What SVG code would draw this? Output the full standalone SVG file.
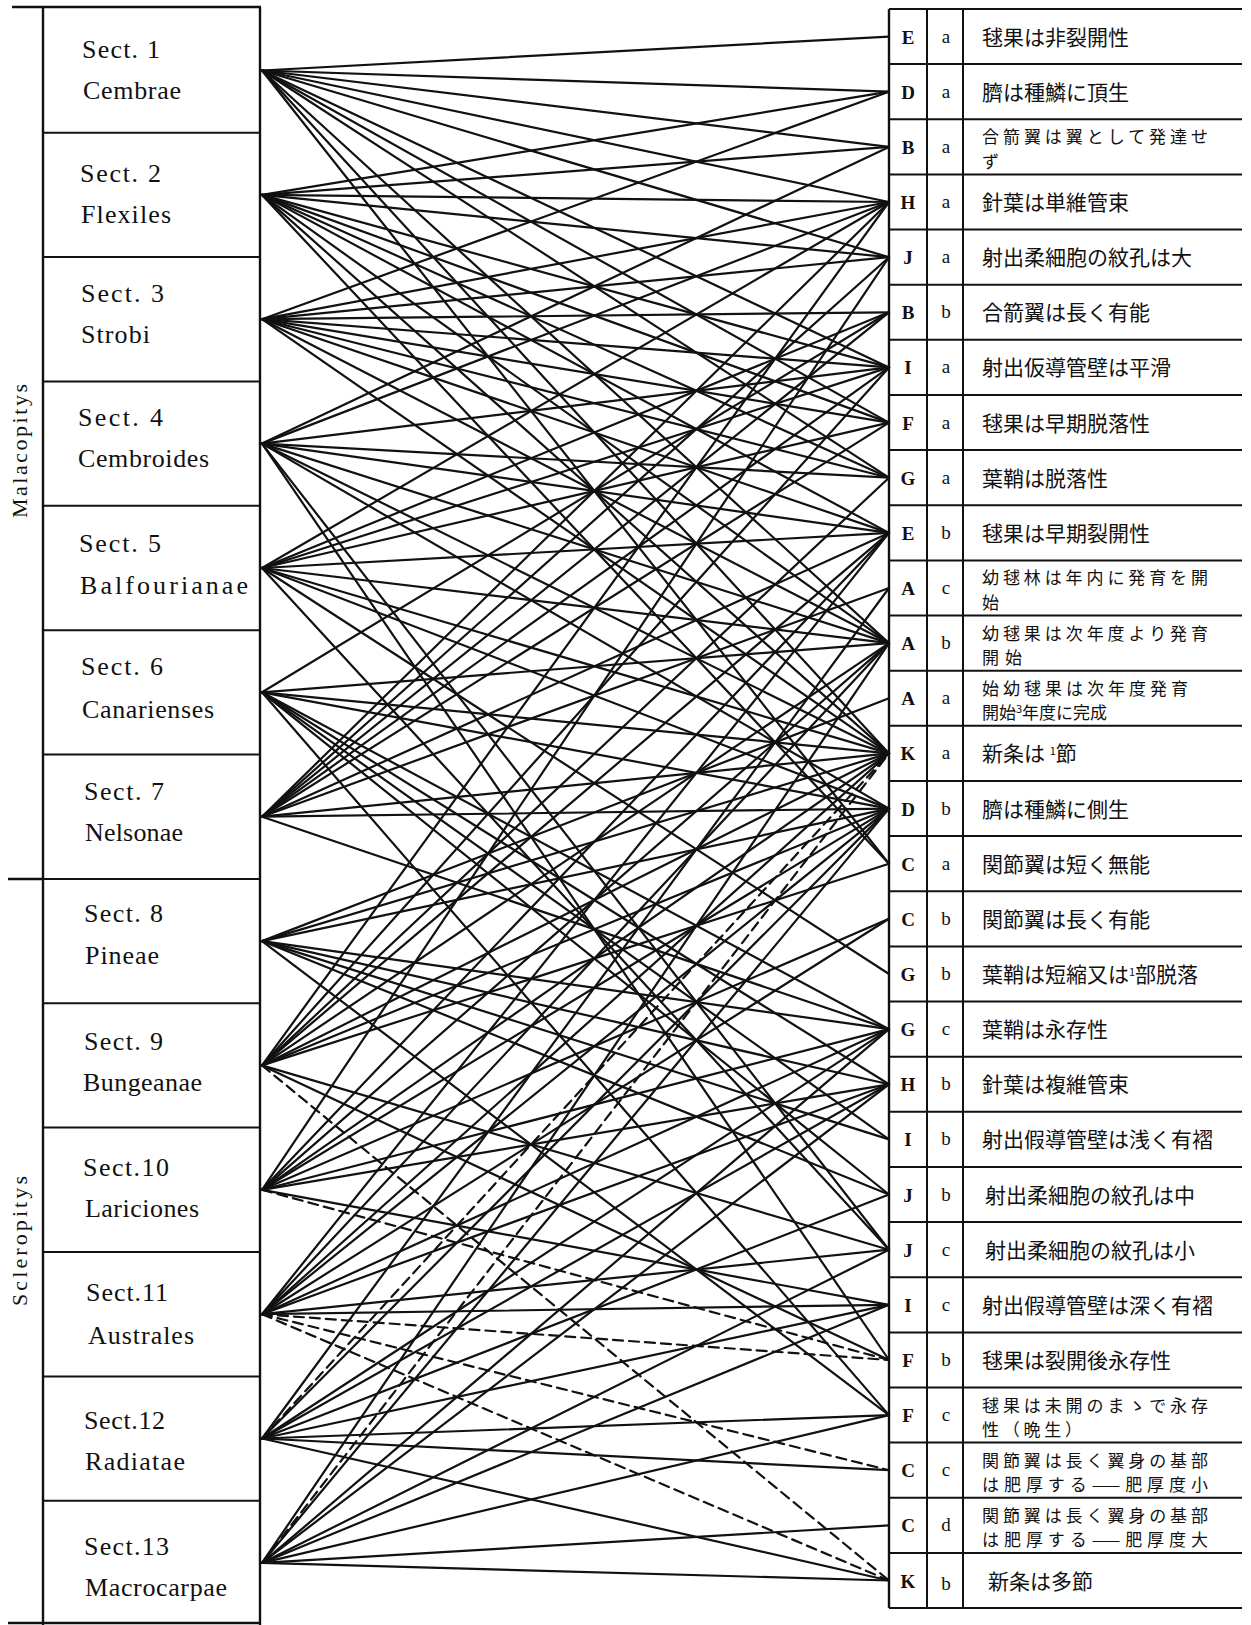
<svg xmlns="http://www.w3.org/2000/svg" width="1251" height="1625" viewBox="0 0 1251 1625">
<style>
.bg{fill:#fff}
.frame{stroke:#111;stroke-width:2.4;fill:none}
.thin{stroke:#111;stroke-width:2;fill:none}
.sect{font-family:"Liberation Serif","DejaVu Serif",serif;font-size:26px;fill:#111}
.grp{font-family:"Liberation Serif","DejaVu Serif",serif;font-size:22px;fill:#111}
.cap{font-family:"Liberation Serif","DejaVu Serif",serif;font-size:19px;font-weight:bold;fill:#111;text-anchor:middle}
.low{font-family:"Liberation Serif","DejaVu Serif",serif;font-size:19px;fill:#111;text-anchor:middle}
.jp{font-family:"Noto Sans CJK JP","Noto Sans CJK SC",sans-serif;font-size:21px;fill:#111}
.jp2{font-family:"Noto Sans CJK JP","Noto Sans CJK SC",sans-serif;font-size:17px;fill:#111}
.sm{font-size:11px}
#connectors line{stroke:#111;stroke-width:2.2;stroke-linecap:round}
#connectors .d{stroke-dasharray:10 6}
</style>
<rect class="bg" x="0" y="0" width="1251" height="1625"/>

<g id="left-frame">
<line class="frame" x1="12" y1="7" x2="261" y2="7"/>
<line class="frame" x1="43" y1="7" x2="43" y2="1625"/>
<line class="frame" x1="260" y1="7" x2="260" y2="1625"/>
<line class="frame" x1="8" y1="879" x2="43" y2="879"/>
<line class="frame" x1="8" y1="1623" x2="260" y2="1623"/>
<line class="thin" x1="43" y1="132.7" x2="260" y2="132.7"/>
<line class="thin" x1="43" y1="257.1" x2="260" y2="257.1"/>
<line class="thin" x1="43" y1="381.4" x2="260" y2="381.4"/>
<line class="thin" x1="43" y1="505.8" x2="260" y2="505.8"/>
<line class="thin" x1="43" y1="630.2" x2="260" y2="630.2"/>
<line class="thin" x1="43" y1="754.5" x2="260" y2="754.5"/>
<line class="thin" x1="43" y1="878.9" x2="260" y2="878.9"/>
<line class="thin" x1="43" y1="1003.3" x2="260" y2="1003.3"/>
<line class="thin" x1="43" y1="1127.6" x2="260" y2="1127.6"/>
<line class="thin" x1="43" y1="1252" x2="260" y2="1252"/>
<line class="thin" x1="43" y1="1376.4" x2="260" y2="1376.4"/>
<line class="thin" x1="43" y1="1500.7" x2="260" y2="1500.7"/>
</g>
<g id="group-malacopitys"><text class="grp" transform="translate(27 451) rotate(-90)" text-anchor="middle" textLength="134" lengthAdjust="spacing">Malacopitys</text></g>
<g id="group-scleropitys"><text class="grp" transform="translate(27 1241) rotate(-90)" text-anchor="middle" textLength="130" lengthAdjust="spacing">Scleropitys</text></g>

<g id="sect1"><text class="sect" x="82" y="58" textLength="78" lengthAdjust="spacing">Sect. 1</text><text class="sect" x="83" y="99" textLength="98" lengthAdjust="spacing">Cembrae</text></g>
<g id="sect2"><text class="sect" x="80" y="182" textLength="81" lengthAdjust="spacing">Sect. 2</text><text class="sect" x="81" y="223" textLength="90" lengthAdjust="spacing">Flexiles</text></g>
<g id="sect3"><text class="sect" x="81" y="302" textLength="83" lengthAdjust="spacing">Sect. 3</text><text class="sect" x="81" y="343" textLength="69" lengthAdjust="spacing">Strobi</text></g>
<g id="sect4"><text class="sect" x="78" y="426" textLength="85" lengthAdjust="spacing">Sect. 4</text><text class="sect" x="78" y="467" textLength="131" lengthAdjust="spacing">Cembroides</text></g>
<g id="sect5"><text class="sect" x="79" y="552" textLength="82" lengthAdjust="spacing">Sect. 5</text><text class="sect" x="80" y="594" textLength="168" lengthAdjust="spacing">Balfourianae</text></g>
<g id="sect6"><text class="sect" x="81" y="675" textLength="82" lengthAdjust="spacing">Sect. 6</text><text class="sect" x="82" y="718" textLength="132" lengthAdjust="spacing">Canarienses</text></g>
<g id="sect7"><text class="sect" x="84" y="800" textLength="80" lengthAdjust="spacing">Sect. 7</text><text class="sect" x="85" y="841" textLength="98" lengthAdjust="spacing">Nelsonae</text></g>
<g id="sect8"><text class="sect" x="84" y="922" textLength="79" lengthAdjust="spacing">Sect. 8</text><text class="sect" x="85" y="964" textLength="74" lengthAdjust="spacing">Pineae</text></g>
<g id="sect9"><text class="sect" x="84" y="1050" textLength="79" lengthAdjust="spacing">Sect. 9</text><text class="sect" x="83" y="1091" textLength="119" lengthAdjust="spacing">Bungeanae</text></g>
<g id="sect10"><text class="sect" x="83" y="1176" textLength="86" lengthAdjust="spacing">Sect.10</text><text class="sect" x="85" y="1217" textLength="114" lengthAdjust="spacing">Lariciones</text></g>
<g id="sect11"><text class="sect" x="86" y="1301" textLength="82" lengthAdjust="spacing">Sect.11</text><text class="sect" x="88" y="1344" textLength="106" lengthAdjust="spacing">Australes</text></g>
<g id="sect12"><text class="sect" x="84" y="1429" textLength="81" lengthAdjust="spacing">Sect.12</text><text class="sect" x="85" y="1470" textLength="100" lengthAdjust="spacing">Radiatae</text></g>
<g id="sect13"><text class="sect" x="84" y="1555" textLength="85" lengthAdjust="spacing">Sect.13</text><text class="sect" x="85" y="1596" textLength="142" lengthAdjust="spacing">Macrocarpae</text></g>

<g id="right-frame">
<line class="frame" x1="889" y1="9" x2="889" y2="1608"/>
<line class="thin" x1="927" y1="9" x2="927" y2="1608"/>
<line class="thin" x1="963" y1="9" x2="963" y2="1608"/>
<g class="thin">
<line x1="889" y1="9" x2="1242" y2="9"/>
<line x1="889" y1="64.1" x2="1242" y2="64.1"/>
<line x1="889" y1="119.3" x2="1242" y2="119.3"/>
<line x1="889" y1="174.4" x2="1242" y2="174.4"/>
<line x1="889" y1="229.6" x2="1242" y2="229.6"/>
<line x1="889" y1="284.7" x2="1242" y2="284.7"/>
<line x1="889" y1="339.8" x2="1242" y2="339.8"/>
<line x1="889" y1="395" x2="1242" y2="395"/>
<line x1="889" y1="450.1" x2="1242" y2="450.1"/>
<line x1="889" y1="505.3" x2="1242" y2="505.3"/>
<line x1="889" y1="560.4" x2="1242" y2="560.4"/>
<line x1="889" y1="615.5" x2="1242" y2="615.5"/>
<line x1="889" y1="670.7" x2="1242" y2="670.7"/>
<line x1="889" y1="725.8" x2="1242" y2="725.8"/>
<line x1="889" y1="781" x2="1242" y2="781"/>
<line x1="889" y1="836.1" x2="1242" y2="836.1"/>
<line x1="889" y1="891.2" x2="1242" y2="891.2"/>
<line x1="889" y1="946.4" x2="1242" y2="946.4"/>
<line x1="889" y1="1001.5" x2="1242" y2="1001.5"/>
<line x1="889" y1="1056.7" x2="1242" y2="1056.7"/>
<line x1="889" y1="1111.8" x2="1242" y2="1111.8"/>
<line x1="889" y1="1166.9" x2="1242" y2="1166.9"/>
<line x1="889" y1="1222.1" x2="1242" y2="1222.1"/>
<line x1="889" y1="1277.2" x2="1242" y2="1277.2"/>
<line x1="889" y1="1332.4" x2="1242" y2="1332.4"/>
<line x1="889" y1="1387.5" x2="1242" y2="1387.5"/>
<line x1="889" y1="1442.6" x2="1242" y2="1442.6"/>
<line x1="889" y1="1497.8" x2="1242" y2="1497.8"/>
<line x1="889" y1="1552.9" x2="1242" y2="1552.9"/>
<line x1="889" y1="1608.1" x2="1242" y2="1608.1"/>
</g>
</g>

<g id="row-Ea"><text class="cap" x="908" y="43.6">E</text><text class="low" x="946" y="42.6">a</text><text class="jp" x="982" y="44.6">毬果は非裂開性</text></g>
<g id="row-Da"><text class="cap" x="908" y="98.7">D</text><text class="low" x="946" y="97.7">a</text><text class="jp" x="982" y="99.7">臍は種鱗に頂生</text></g>
<g id="row-Ba"><text class="cap" x="908" y="153.9">B</text><text class="low" x="946" y="152.9">a</text><text class="jp2" x="982" y="143.3" textLength="226" lengthAdjust="spacing">合箭翼は翼として発達せ</text><text class="jp2" x="982" y="167.8">ず</text></g>
<g id="row-Ha"><text class="cap" x="908" y="209">H</text><text class="low" x="946" y="208">a</text><text class="jp" x="982" y="210">針葉は単維管束</text></g>
<g id="row-Ja"><text class="cap" x="908" y="264.2">J</text><text class="low" x="946" y="263.2">a</text><text class="jp" x="982" y="265.2">射出柔細胞の紋孔は大</text></g>
<g id="row-Bb"><text class="cap" x="908" y="319.3">B</text><text class="low" x="946" y="318.3">b</text><text class="jp" x="982" y="320.3">合箭翼は長く有能</text></g>
<g id="row-Ia"><text class="cap" x="908" y="374.4">I</text><text class="low" x="946" y="373.4">a</text><text class="jp" x="982" y="375.4">射出仮導管壁は平滑</text></g>
<g id="row-Fa"><text class="cap" x="908" y="429.6">F</text><text class="low" x="946" y="428.6">a</text><text class="jp" x="982" y="430.6">毬果は早期脱落性</text></g>
<g id="row-Ga"><text class="cap" x="908" y="484.7">G</text><text class="low" x="946" y="483.7">a</text><text class="jp" x="982" y="485.7">葉鞘は脱落性</text></g>
<g id="row-Eb"><text class="cap" x="908" y="539.9">E</text><text class="low" x="946" y="538.9">b</text><text class="jp" x="982" y="540.9">毬果は早期裂開性</text></g>
<g id="row-Ac"><text class="cap" x="908" y="595">A</text><text class="low" x="946" y="594">c</text><text class="jp2" x="982" y="584.4" textLength="226" lengthAdjust="spacing">幼毬林は年内に発育を開</text><text class="jp2" x="982" y="608.9">始</text></g>
<g id="row-Ab"><text class="cap" x="908" y="650.1">A</text><text class="low" x="946" y="649.1">b</text><text class="jp2" x="982" y="639.5" textLength="226" lengthAdjust="spacing">幼毬果は次年度より発育</text><text class="jp2" x="982" y="664" textLength="40" lengthAdjust="spacing">開始</text></g>
<g id="row-Aa"><text class="cap" x="908" y="705.3">A</text><text class="low" x="946" y="704.3">a</text><text class="jp2" x="982" y="694.7" textLength="206" lengthAdjust="spacing">始幼毬果は次年度発育</text><text class="jp2" x="982" y="719.2">開始<tspan class="sm" dy="-6">3</tspan><tspan dy="6">年度に完成</tspan></text></g>
<g id="row-Ka"><text class="cap" x="908" y="760.4">K</text><text class="low" x="946" y="759.4">a</text><text class="jp" x="982" y="761.4">新条は <tspan class="sm" dy="-6">1</tspan><tspan dy="6">節</tspan></text></g>
<g id="row-Db"><text class="cap" x="908" y="815.6">D</text><text class="low" x="946" y="814.6">b</text><text class="jp" x="982" y="816.6">臍は種鱗に側生</text></g>
<g id="row-Ca"><text class="cap" x="908" y="870.7">C</text><text class="low" x="946" y="869.7">a</text><text class="jp" x="982" y="871.7">関節翼は短く無能</text></g>
<g id="row-Cb"><text class="cap" x="908" y="925.8">C</text><text class="low" x="946" y="924.8">b</text><text class="jp" x="982" y="926.8">関節翼は長く有能</text></g>
<g id="row-Gb"><text class="cap" x="908" y="981">G</text><text class="low" x="946" y="980">b</text><text class="jp" x="982" y="982">葉鞘は短縮又は<tspan class="sm" dy="-6">1</tspan><tspan dy="6">部脱落</tspan></text></g>
<g id="row-Gc"><text class="cap" x="908" y="1036.1">G</text><text class="low" x="946" y="1035.1">c</text><text class="jp" x="982" y="1037.1">葉鞘は永存性</text></g>
<g id="row-Hb"><text class="cap" x="908" y="1091.3">H</text><text class="low" x="946" y="1090.3">b</text><text class="jp" x="982" y="1092.3">針葉は複維管束</text></g>
<g id="row-Ib"><text class="cap" x="908" y="1146.4">I</text><text class="low" x="946" y="1145.4">b</text><text class="jp" x="982" y="1147.4">射出假導管壁は浅く有褶</text></g>
<g id="row-Jb"><text class="cap" x="908" y="1201.5">J</text><text class="low" x="946" y="1200.5">b</text><text class="jp" x="985" y="1202.5">射出柔細胞の紋孔は中</text></g>
<g id="row-Jc"><text class="cap" x="908" y="1256.7">J</text><text class="low" x="946" y="1255.7">c</text><text class="jp" x="985" y="1257.7">射出柔細胞の紋孔は小</text></g>
<g id="row-Ic"><text class="cap" x="908" y="1311.8">I</text><text class="low" x="946" y="1310.8">c</text><text class="jp" x="982" y="1312.8">射出假導管壁は深く有褶</text></g>
<g id="row-Fb"><text class="cap" x="908" y="1367">F</text><text class="low" x="946" y="1366">b</text><text class="jp" x="982" y="1368">毬果は裂開後永存性</text></g>
<g id="row-Fc"><text class="cap" x="908" y="1422.1">F</text><text class="low" x="946" y="1421.1">c</text><text class="jp2" x="982" y="1411.5" textLength="226" lengthAdjust="spacing">毬果は未開のまゝで永存</text><text class="jp2" x="982" y="1436" textLength="100" lengthAdjust="spacing">性（晩生）</text></g>
<g id="row-Cc"><text class="cap" x="908" y="1477.2">C</text><text class="low" x="946" y="1476.2">c</text><text class="jp2" x="982" y="1466.6" textLength="226" lengthAdjust="spacing">関節翼は長く翼身の基部</text><text class="jp2" x="982" y="1491.1" textLength="226" lengthAdjust="spacing">は肥厚する——肥厚度小</text></g>
<g id="row-Cd"><text class="cap" x="908" y="1532.4">C</text><text class="low" x="946" y="1531.4">d</text><text class="jp2" x="982" y="1521.8" textLength="226" lengthAdjust="spacing">関節翼は長く翼身の基部</text><text class="jp2" x="982" y="1546.3" textLength="226" lengthAdjust="spacing">は肥厚する——肥厚度大</text></g>
<g id="row-Kb"><text class="cap" x="908" y="1587.5">K</text><text class="low" x="946" y="1589.5">b</text><text class="jp" x="988" y="1588.5">新条は多節</text></g>

<g id="connectors">
<line x1="262" y1="70.5" x2="889" y2="36.6"/>
<line x1="262" y1="70.5" x2="889" y2="91.7"/>
<line x1="262" y1="70.5" x2="889" y2="146.9"/>
<line x1="262" y1="70.5" x2="889" y2="202"/>
<line x1="262" y1="70.5" x2="889" y2="257.2"/>
<line x1="262" y1="70.5" x2="889" y2="367.4"/>
<line x1="262" y1="70.5" x2="889" y2="422.6"/>
<line x1="262" y1="70.5" x2="889" y2="477.7"/>
<line x1="262" y1="70.5" x2="889" y2="643.1"/>
<line x1="262" y1="70.5" x2="889" y2="753.4"/>
<line x1="262" y1="70.5" x2="889" y2="863.7"/>
<line x1="262" y1="194.9" x2="889" y2="91.7"/>
<line x1="262" y1="194.9" x2="889" y2="146.9"/>
<line x1="262" y1="194.9" x2="889" y2="202"/>
<line x1="262" y1="194.9" x2="889" y2="257.2"/>
<line x1="262" y1="194.9" x2="889" y2="367.4"/>
<line x1="262" y1="194.9" x2="889" y2="422.6"/>
<line x1="262" y1="194.9" x2="889" y2="477.7"/>
<line x1="262" y1="194.9" x2="889" y2="532.9"/>
<line x1="262" y1="194.9" x2="889" y2="643.1"/>
<line x1="262" y1="194.9" x2="889" y2="753.4"/>
<line x1="262" y1="194.9" x2="889" y2="863.7"/>
<line x1="262" y1="319.2" x2="889" y2="91.7"/>
<line x1="262" y1="319.2" x2="889" y2="202"/>
<line x1="262" y1="319.2" x2="889" y2="257.2"/>
<line x1="262" y1="319.2" x2="889" y2="312.3"/>
<line x1="262" y1="319.2" x2="889" y2="367.4"/>
<line x1="262" y1="319.2" x2="889" y2="422.6"/>
<line x1="262" y1="319.2" x2="889" y2="477.7"/>
<line x1="262" y1="319.2" x2="889" y2="532.9"/>
<line x1="262" y1="319.2" x2="889" y2="643.1"/>
<line x1="262" y1="319.2" x2="889" y2="753.4"/>
<line x1="262" y1="443.6" x2="889" y2="146.9"/>
<line x1="262" y1="443.6" x2="889" y2="202"/>
<line x1="262" y1="443.6" x2="889" y2="367.4"/>
<line x1="262" y1="443.6" x2="889" y2="477.7"/>
<line x1="262" y1="443.6" x2="889" y2="532.9"/>
<line x1="262" y1="443.6" x2="889" y2="643.1"/>
<line x1="262" y1="443.6" x2="889" y2="753.4"/>
<line x1="262" y1="443.6" x2="889" y2="808.6"/>
<line x1="262" y1="443.6" x2="889" y2="1249.7"/>
<line x1="262" y1="443.6" x2="889" y2="1360"/>
<line x1="262" y1="568" x2="889" y2="202"/>
<line x1="262" y1="568" x2="889" y2="312.3"/>
<line x1="262" y1="568" x2="889" y2="367.4"/>
<line x1="262" y1="568" x2="889" y2="422.6"/>
<line x1="262" y1="568" x2="889" y2="532.9"/>
<line x1="262" y1="568" x2="889" y2="643.1"/>
<line x1="262" y1="568" x2="889" y2="753.4"/>
<line x1="262" y1="568" x2="889" y2="808.6"/>
<line x1="262" y1="568" x2="889" y2="974"/>
<line x1="262" y1="568" x2="889" y2="1249.7"/>
<line x1="262" y1="692.3" x2="889" y2="312.3"/>
<line x1="262" y1="692.3" x2="889" y2="643.1"/>
<line x1="262" y1="692.3" x2="889" y2="753.4"/>
<line x1="262" y1="692.3" x2="889" y2="808.6"/>
<line x1="262" y1="692.3" x2="889" y2="1029.1"/>
<line x1="262" y1="692.3" x2="889" y2="1084.3"/>
<line x1="262" y1="692.3" x2="889" y2="1139.4"/>
<line x1="262" y1="692.3" x2="889" y2="1194.5"/>
<line x1="262" y1="692.3" x2="889" y2="1415.1"/>
<line x1="262" y1="816.7" x2="889" y2="202"/>
<line x1="262" y1="816.7" x2="889" y2="257.2"/>
<line x1="262" y1="816.7" x2="889" y2="312.3"/>
<line x1="262" y1="816.7" x2="889" y2="367.4"/>
<line x1="262" y1="816.7" x2="889" y2="422.6"/>
<line x1="262" y1="816.7" x2="889" y2="532.9"/>
<line x1="262" y1="816.7" x2="889" y2="588"/>
<line x1="262" y1="816.7" x2="889" y2="753.4"/>
<line x1="262" y1="816.7" x2="889" y2="808.6"/>
<line x1="262" y1="816.7" x2="889" y2="1029.1"/>
<line x1="262" y1="941.1" x2="889" y2="698.3"/>
<line x1="262" y1="941.1" x2="889" y2="753.4"/>
<line x1="262" y1="941.1" x2="889" y2="808.6"/>
<line x1="262" y1="941.1" x2="889" y2="1029.1"/>
<line x1="262" y1="941.1" x2="889" y2="1084.3"/>
<line x1="262" y1="941.1" x2="889" y2="1139.4"/>
<line x1="262" y1="941.1" x2="889" y2="1194.5"/>
<line x1="262" y1="941.1" x2="889" y2="1415.1"/>
<line x1="262" y1="1065.4" x2="889" y2="202"/>
<line x1="262" y1="1065.4" x2="889" y2="367.4"/>
<line x1="262" y1="1065.4" x2="889" y2="477.7"/>
<line x1="262" y1="1065.4" x2="889" y2="532.9"/>
<line x1="262" y1="1065.4" x2="889" y2="643.1"/>
<line x1="262" y1="1065.4" x2="889" y2="753.4"/>
<line x1="262" y1="1065.4" x2="889" y2="808.6"/>
<line x1="262" y1="1065.4" x2="889" y2="863.7"/>
<line x1="262" y1="1065.4" x2="889" y2="1249.7"/>
<line x1="262" y1="1065.4" x2="889" y2="1360"/>
<line class="d" x1="262" y1="1065.4" x2="889" y2="1580.5"/>
<line x1="262" y1="1189.8" x2="889" y2="257.2"/>
<line x1="262" y1="1189.8" x2="889" y2="532.9"/>
<line x1="262" y1="1189.8" x2="889" y2="643.1"/>
<line x1="262" y1="1189.8" x2="889" y2="753.4"/>
<line x1="262" y1="1189.8" x2="889" y2="808.6"/>
<line x1="262" y1="1189.8" x2="889" y2="918.8"/>
<line x1="262" y1="1189.8" x2="889" y2="1029.1"/>
<line x1="262" y1="1189.8" x2="889" y2="1084.3"/>
<line x1="262" y1="1189.8" x2="889" y2="1304.8"/>
<line class="d" x1="262" y1="1189.8" x2="889" y2="1360"/>
<line x1="262" y1="1314.2" x2="889" y2="532.9"/>
<line x1="262" y1="1314.2" x2="889" y2="643.1"/>
<line x1="262" y1="1314.2" x2="889" y2="753.4"/>
<line x1="262" y1="1314.2" x2="889" y2="808.6"/>
<line x1="262" y1="1314.2" x2="889" y2="918.8"/>
<line x1="262" y1="1314.2" x2="889" y2="1029.1"/>
<line x1="262" y1="1314.2" x2="889" y2="1084.3"/>
<line x1="262" y1="1314.2" x2="889" y2="1249.7"/>
<line x1="262" y1="1314.2" x2="889" y2="1304.8"/>
<line class="d" x1="262" y1="1314.2" x2="889" y2="1360"/>
<line class="d" x1="262" y1="1314.2" x2="889" y2="1470.2"/>
<line class="d" x1="262" y1="1314.2" x2="889" y2="1580.5"/>
<line x1="262" y1="1438.5" x2="889" y2="588"/>
<line x1="262" y1="1438.5" x2="889" y2="808.6"/>
<line x1="262" y1="1438.5" x2="889" y2="1029.1"/>
<line x1="262" y1="1438.5" x2="889" y2="1084.3"/>
<line x1="262" y1="1438.5" x2="889" y2="1194.5"/>
<line x1="262" y1="1438.5" x2="889" y2="1304.8"/>
<line x1="262" y1="1438.5" x2="889" y2="1415.1"/>
<line x1="262" y1="1438.5" x2="889" y2="1470.2"/>
<line x1="262" y1="1438.5" x2="889" y2="1580.5"/>
<line class="d" x1="262" y1="1438.5" x2="889" y2="753.4"/>
<line x1="262" y1="1562.9" x2="889" y2="643.1"/>
<line x1="262" y1="1562.9" x2="889" y2="808.6"/>
<line x1="262" y1="1562.9" x2="889" y2="1029.1"/>
<line x1="262" y1="1562.9" x2="889" y2="1084.3"/>
<line x1="262" y1="1562.9" x2="889" y2="1249.7"/>
<line x1="262" y1="1562.9" x2="889" y2="1304.8"/>
<line x1="262" y1="1562.9" x2="889" y2="1415.1"/>
<line x1="262" y1="1562.9" x2="889" y2="1525.4"/>
<line x1="262" y1="1562.9" x2="889" y2="1580.5"/>
<line class="d" x1="262" y1="1562.9" x2="889" y2="753.4"/>
</g>
</svg>
